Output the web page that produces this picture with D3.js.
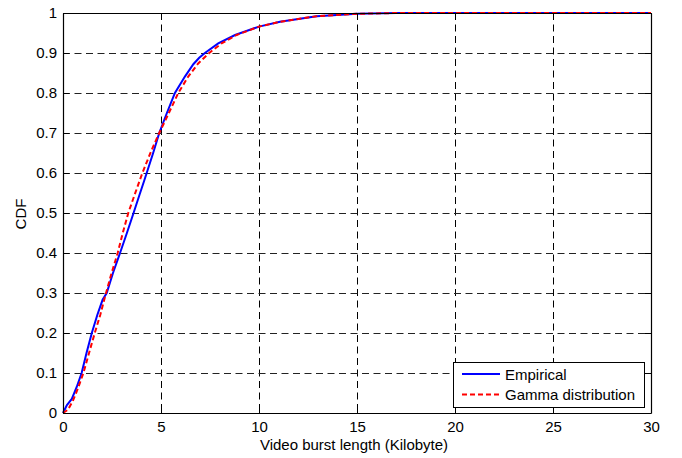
<!DOCTYPE html>
<html>
<head>
<meta charset="utf-8">
<script src="https://cdn.jsdelivr.net/npm/d3@7"></script>
<style>
html,body{margin:0;padding:0;background:#fff;}
svg{display:block;}
text{font-family:"Liberation Sans",Arial,Helvetica,sans-serif;}
</style>
</head>
<body>
<svg id="chart" width="682" height="458"></svg>
<script>
// ---- data ----
const xTicks = [0, 5, 10, 15, 20, 25, 30];
const yTicks = [0, 0.1, 0.2, 0.3, 0.4, 0.5, 0.6, 0.7, 0.8, 0.9, 1];
const yTickLabels = ["0", "0.1", "0.2", "0.3", "0.4", "0.5", "0.6", "0.7", "0.8", "0.9", "1"];

const empiricalX = [0, 0.2, 0.45, 0.7, 0.95, 1.2, 1.47, 1.75, 2.02, 2.23, 2.55, 2.91, 3.26, 3.6, 3.9, 4.15, 4.27, 4.6, 4.91, 5.3, 5.71, 6.22, 6.65, 6.95, 7.24, 7.92, 8.78, 10, 11.07, 12.94, 15, 17, 20, 25, 30];
const empiricalY = [0, 0.02, 0.035, 0.065, 0.1, 0.15, 0.2, 0.245, 0.283, 0.3, 0.35, 0.4, 0.45, 0.5, 0.545, 0.582, 0.6, 0.65, 0.7, 0.75, 0.8, 0.841, 0.872, 0.888, 0.9, 0.924, 0.945, 0.966, 0.978, 0.992, 0.998, 1, 1, 1, 1];

const gammaX = [0, 0.25, 0.5, 0.75, 1.04, 1.3, 1.62, 1.9, 2.14, 2.45, 2.79, 3.05, 3.33, 3.65, 4.05, 4.5, 4.91, 5.4, 5.88, 6.39, 6.9, 7.46, 8.09, 8.86, 10, 11.07, 12.94, 15, 17, 20, 25, 30];
const gammaY = [0, 0.008, 0.03, 0.06, 0.1, 0.145, 0.2, 0.245, 0.29, 0.345, 0.4, 0.45, 0.5, 0.545, 0.6, 0.655, 0.7, 0.75, 0.8, 0.841, 0.874, 0.9, 0.924, 0.945, 0.966, 0.978, 0.992, 0.998, 1, 1, 1, 1];

const seriesNames = ["Empirical", "Gamma distribution"];
const xLabel = "Video burst length (Kilobyte)";
const yLabel = "CDF";

// ---- layout ----
const L = 63, T = 13, R = 651, B = 413;
const FS = "15px";
const svg = d3.select("#chart");
const x = d3.scaleLinear().domain([0, 30]).range([L, R]);
const y = d3.scaleLinear().domain([0, 1]).range([B, T]);

// grid
const grid = svg.append("g");
grid.selectAll("line.vg").data(xTicks.slice(1, -1)).enter().append("line")
  .attr("x1", d => Math.round(x(d)) + 0.5).attr("x2", d => Math.round(x(d)) + 0.5)
  .attr("y1", T).attr("y2", B)
  .attr("stroke", "#000").attr("stroke-width", 1).attr("stroke-dasharray", "7,4.5");
grid.selectAll("line.hg").data(yTicks.slice(1, -1)).enter().append("line")
  .attr("y1", d => Math.round(y(d)) + 0.5).attr("y2", d => Math.round(y(d)) + 0.5)
  .attr("x1", L).attr("x2", R)
  .attr("stroke", "#222").attr("stroke-width", 1).attr("stroke-dasharray", "7,4.5");

// axes (MATLAB style: inward ticks, box)
const tickLen = 6;
const xAxisB = d3.axisBottom(x).tickValues(xTicks).tickSizeInner(-tickLen).tickSizeOuter(0).tickPadding(8).tickFormat(d3.format("d"));
const xAxisT = d3.axisTop(x).tickValues(xTicks).tickSizeInner(-tickLen).tickSizeOuter(0).tickFormat("");
const yAxisL = d3.axisLeft(y).tickValues(yTicks).tickSizeInner(-tickLen).tickSizeOuter(0).tickPadding(6).tickFormat((d, i) => yTickLabels[i]);
const yAxisR = d3.axisRight(y).tickValues(yTicks).tickSizeInner(-tickLen).tickSizeOuter(0).tickFormat("");

function styleAxis(g) {
  g.selectAll("path").attr("stroke", "#000").attr("stroke-width", 1.2);
  g.selectAll("line").attr("stroke", "#000");
  g.selectAll("text").attr("fill", "#000").style("font-size", FS)
    .style("font-family", '"Liberation Sans", Arial, sans-serif');
}

// lines
const line = d3.line().x(d => x(d[0])).y(d => y(d[1]));
const empData = empiricalX.map((v, i) => [v, empiricalY[i]]);
const gamData = gammaX.map((v, i) => [v, gammaY[i]]);

svg.append("path").datum(empData).attr("d", line)
  .attr("fill", "none").attr("stroke", "#0000ff").attr("stroke-width", 2);
svg.append("path").datum(gamData).attr("d", line)
  .attr("fill", "none").attr("stroke", "#ff0000").attr("stroke-width", 2)
  .attr("stroke-dasharray", "5,3");

svg.append("g").attr("transform", `translate(0,${B})`).call(xAxisB).call(styleAxis);
svg.append("g").attr("transform", `translate(0,${T})`).call(xAxisT).call(styleAxis);
svg.append("g").attr("transform", `translate(${L},0)`).call(yAxisL).call(styleAxis);
svg.append("g").attr("transform", `translate(${R},0)`).call(yAxisR).call(styleAxis);

// axis labels
svg.append("text").attr("x", 354).attr("y", 450).attr("text-anchor", "middle")
  .style("font-size", FS).text(xLabel);
svg.append("text").attr("transform", "translate(26,214) rotate(-90)").attr("text-anchor", "middle")
  .style("font-size", FS).text(yLabel);

// legend
const lg = svg.append("g");
lg.append("rect").attr("x", 453.5).attr("y", 362.5).attr("width", 191).attr("height", 45)
  .attr("fill", "#fff").attr("stroke", "#000").attr("stroke-width", 1);
lg.append("line").attr("x1", 462).attr("x2", 500).attr("y1", 374).attr("y2", 374)
  .attr("stroke", "#0000ff").attr("stroke-width", 2);
lg.append("line").attr("x1", 462).attr("x2", 500).attr("y1", 394.5).attr("y2", 394.5)
  .attr("stroke", "#ff0000").attr("stroke-width", 2).attr("stroke-dasharray", "5,3");
lg.append("text").attr("x", 505).attr("y", 379.5).style("font-size", FS).text(seriesNames[0]);
lg.append("text").attr("x", 505).attr("y", 400).style("font-size", FS).text(seriesNames[1]);
</script>
</body>
</html>
